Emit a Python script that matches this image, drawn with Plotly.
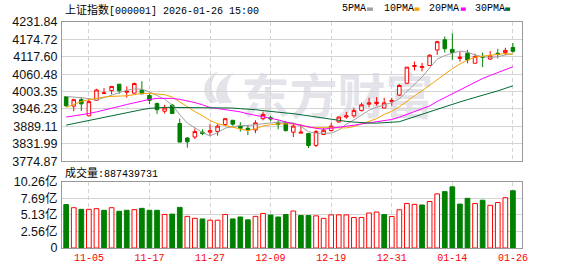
import plotly.graph_objects as go

# ---------------- data ----------------
dates = ["10-31", "11-03", "11-04", "11-05", "11-06", "11-07", "11-10", "11-11", "11-12", "11-13",
         "11-14", "11-17", "11-18", "11-19", "11-20", "11-21", "11-24", "11-25", "11-26", "11-27",
         "11-28", "12-01", "12-02", "12-03", "12-04", "12-05", "12-08", "12-09", "12-10", "12-11",
         "12-12", "12-15", "12-16", "12-17", "12-18", "12-19", "12-22", "12-23", "12-24", "12-25",
         "12-26", "12-29", "12-30", "12-31", "01-05", "01-06", "01-07", "01-08", "01-09", "01-12",
         "01-13", "01-14", "01-15", "01-16", "01-19", "01-20", "01-21", "01-22", "01-23", "01-26"]

opens = [3986.4, 3955.7, 3976.8, 3923.9, 3974.7, 3997.0, 4006.5, 4027.7, 4001.2, 3998.1,
         4008.6, 3990.6, 3964.1, 3938.8, 3958.9, 3898.6, 3851.0, 3854.1, 3870.0, 3870.0,
         3872.1, 3895.4, 3909.2, 3890.1, 3882.7, 3877.4, 3914.5, 3917.6, 3900.7, 3900.7,
         3870.0, 3866.8, 3865.7, 3826.6, 3862.6, 3875.3, 3903.8, 3919.7, 3923.9, 3940.9,
         3962.0, 3964.1, 3949.3, 3970.5, 3991.7, 4030.8, 4085.8, 4082.7, 4089.0, 4139.8,
         4173.6, 4141.9, 4112.3, 4129.2, 4096.4, 4118.6, 4110.2, 4129.2, 4131.3, 4148.2]
highs = [3988.5, 3980.0, 3985.3, 3982.2, 4012.8, 4015.0, 4020.3, 4027.7, 4020.3, 4033.0,
         4037.2, 3995.9, 3967.3, 3959.9, 3963.1, 3914.5, 3854.1, 3882.7, 3879.5, 3896.5,
         3896.5, 3914.5, 3909.2, 3902.8, 3893.3, 3909.2, 3937.8, 3924.0, 3909.2, 3907.0,
         3896.5, 3896.5, 3865.7, 3877.4, 3884.8, 3900.7, 3921.8, 3936.6, 3949.3, 3967.3,
         3983.2, 3985.3, 3983.2, 3983.2, 4027.7, 4083.7, 4101.7, 4097.5, 4126.0, 4170.5,
         4184.2, 4194.8, 4134.5, 4139.8, 4128.1, 4131.3, 4136.7, 4144.0, 4147.1, 4163.0]
lows = [3953.6, 3938.8, 3939.8, 3922.9, 3972.6, 3997.0, 3993.8, 3995.9, 3983.2, 3997.0,
        3994.9, 3962.0, 3930.3, 3931.4, 3930.3, 3837.2, 3819.2, 3847.8, 3860.5, 3858.4,
        3858.4, 3890.1, 3891.2, 3872.1, 3860.5, 3866.8, 3909.2, 3906.0, 3879.5, 3872.1,
        3854.1, 3866.8, 3818.1, 3821.3, 3860.5, 3872.1, 3900.7, 3914.5, 3917.6, 3938.8,
        3951.5, 3956.8, 3949.3, 3956.8, 3988.5, 4027.7, 4073.1, 4070.0, 4089.0, 4123.9,
        4131.3, 4108.1, 4101.7, 4096.4, 4096.4, 4083.7, 4108.1, 4112.3, 4122.8, 4131.3]
closes = [3956.8, 3976.8, 3963.1, 3970.5, 4008.6, 3999.1, 4020.3, 4006.5, 4004.4, 4029.8,
          3995.9, 3974.7, 3944.0, 3949.3, 3931.4, 3837.5, 3838.5, 3872.1, 3865.8, 3875.3,
          3890.1, 3914.5, 3896.5, 3882.7, 3877.4, 3900.7, 3928.2, 3913.4, 3896.5, 3875.3,
          3890.1, 3870.0, 3826.6, 3872.1, 3876.4, 3890.1, 3919.7, 3923.9, 3940.9, 3959.9,
          3966.3, 3968.3, 3966.3, 3974.7, 4023.4, 4083.7, 4089.0, 4085.8, 4122.8, 4167.3,
          4144.0, 4131.3, 4116.5, 4107.0, 4118.6, 4116.5, 4120.8, 4125.0, 4138.7, 4135.5]

# volume in 亿
volumes = [6.73, 6.24, 5.99, 5.99, 6.09, 5.84, 6.24, 5.69, 5.84, 5.94,
           6.14, 5.84, 5.84, 5.20, 5.25, 6.29, 4.90, 4.60, 4.50, 4.31,
           4.31, 5.20, 4.50, 4.80, 4.36, 4.90, 5.35, 5.10, 4.80, 5.18,
           5.72, 5.03, 5.03, 4.98, 4.59, 5.13, 5.13, 5.13, 4.73, 4.73,
           5.42, 5.57, 5.18, 4.88, 5.92, 6.90, 6.76, 6.66, 7.20, 8.38,
           8.73, 9.47, 6.80, 7.69, 6.90, 7.40, 6.61, 7.05, 7.79, 8.87]

ma5 = [3987.5, 3986.4, 3983.2, 3980.0, 3975.2, 3983.6, 3992.3, 4001.0, 4007.8, 4012.0,
       4011.4, 4002.3, 3989.8, 3978.7, 3959.1, 3927.4, 3900.1, 3885.8, 3869.1, 3857.8,
       3868.4, 3883.6, 3888.4, 3891.8, 3892.2, 3894.4, 3897.1, 3900.5, 3903.2, 3902.8,
       3900.7, 3889.1, 3871.7, 3866.8, 3867.0, 3867.0, 3877.0, 3896.4, 3910.2, 3926.9,
       3942.1, 3951.9, 3960.3, 3967.1, 3979.8, 4003.3, 4027.4, 4051.3, 4080.9, 4109.7,
       4121.8, 4130.2, 4136.4, 4133.2, 4123.5, 4118.0, 4115.9, 4117.6, 4123.9, 4127.3]
ma10 = [3951.5, 3961.0, 3970.5, 3976.8, 3982.2, 3985.4, 3987.5, 3988.5, 3989.6, 3993.6,
        3997.5, 3997.3, 3995.4, 3993.3, 3985.5, 3969.4, 3951.2, 3937.8, 3923.9, 3908.5,
        3897.9, 3891.9, 3887.1, 3880.4, 3875.0, 3881.4, 3890.3, 3894.5, 3897.5, 3897.5,
        3897.5, 3893.1, 3886.1, 3885.0, 3884.9, 3883.9, 3883.0, 3884.1, 3888.5, 3897.0,
        3904.6, 3914.4, 3928.4, 3938.7, 3953.4, 3972.7, 3989.6, 4005.8, 4024.0, 4044.8,
        4062.5, 4078.8, 4093.9, 4107.1, 4116.6, 4119.9, 4123.1, 4127.0, 4128.6, 4125.4]
ma20 = [3919.7, 3922.9, 3927.1, 3931.4, 3936.7, 3942.0, 3948.3, 3954.6, 3961.0, 3967.3,
        3973.7, 3977.9, 3981.1, 3982.2, 3981.1, 3977.9, 3973.7, 3967.3, 3960.0, 3951.0,
        3947.7, 3944.5, 3941.2, 3936.8, 3930.3, 3925.3, 3920.7, 3916.1, 3910.7, 3902.9,
        3897.7, 3892.4, 3886.5, 3882.7, 3879.9, 3882.6, 3886.6, 3889.2, 3893.0, 3897.2,
        3901.0, 3903.7, 3907.2, 3911.8, 3919.1, 3928.3, 3936.3, 3944.9, 3956.3, 3970.9,
        3983.5, 3996.6, 4011.1, 4022.8, 4034.9, 4046.3, 4056.3, 4066.4, 4076.3, 4085.0]
ma30 = [3893.3, 3898.6, 3902.8, 3908.1, 3913.4, 3918.7, 3924.0, 3929.3, 3934.5, 3939.8,
        3944.0, 3948.3, 3950.4, 3951.5, 3951.5, 3951.5, 3951.5, 3951.5, 3950.4, 3950.4,
        3950.4, 3949.3, 3949.3, 3947.2, 3946.2, 3944.0, 3940.9, 3937.7, 3934.5, 3933.2,
        3931.0, 3927.4, 3922.9, 3919.6, 3915.2, 3911.6, 3908.2, 3905.5, 3903.3, 3901.0,
        3900.0, 3899.8, 3900.5, 3901.4, 3904.4, 3912.7, 3921.0, 3928.1, 3936.7, 3946.4,
        3954.9, 3962.1, 3969.4, 3976.9, 3985.0, 3992.2, 3998.6, 4005.6, 4013.7, 4022.4]

price_tick_labels = ["3774.87", "3831.99", "3889.11", "3946.23", "4003.35",
                     "4060.48", "4117.60", "4174.72", "4231.84"]
vol_tick_vals = [0, 2.565, 5.13, 7.695, 10.26]
vol_tick_labels = ["0", "2.56亿", "5.13亿", "7.69亿", "10.26亿"]
date_tick_labels = ["11-05", "11-17", "11-27", "12-09", "12-19", "12-31", "01-14", "01-26"]

index_name = "上证指数"
index_code = "000001"
quote_time = "2026-01-26 15:00"
last_volume = 887439731
ma_names = ["5PMA", "10PMA", "20PMA", "30PMA"]
watermark = "东方财富"

# ---------------- styles ----------------
RED = "#ff0000"
GREEN = "#008000"
MA_COLORS = ["#a0a0a0", "#f5a300", "#ff00ff", "#006a33"]
GRID = "#d4d4d4"
BORDER = "#999999"
WM = "#e3e3e9"
MONO = "Liberation Mono, Noto Sans CJK SC"
CJK = "Noto Sans CJK SC"

x = list(range(len(dates)))
tick_pos = [dates.index(d) for d in date_tick_labels]

fig = go.Figure()

fig.add_trace(go.Candlestick(
    x=x, open=opens, high=highs, low=lows, close=closes,
    increasing=dict(line=dict(color=RED, width=1), fillcolor="#ffffff"),
    decreasing=dict(line=dict(color=GREEN, width=1), fillcolor=GREEN),
    whiskerwidth=0, xaxis="x", yaxis="y", showlegend=False, hoverinfo="skip"))

for vals, col in zip([ma5, ma10, ma20, ma30], MA_COLORS):
    fig.add_trace(go.Scatter(x=x, y=vals, mode="lines", line=dict(color=col, width=1),
                             xaxis="x", yaxis="y", showlegend=False, hoverinfo="skip"))

up = [False] + [closes[i] >= closes[i - 1] for i in range(1, len(closes))]
fig.add_trace(go.Bar(
    x=x, y=volumes, width=0.62,
    marker=dict(color=["#ffffff" if u else GREEN for u in up],
                line=dict(color=[RED if u else GREEN for u in up], width=1)),
    xaxis="x2", yaxis="y2", showlegend=False, hoverinfo="skip"))

W, H = 578, 276
L, R, T, B = 56, 56, 22, 21
PH = H - T - B
PW = W - L - R


def px_x(p):
    return (p - L) / PW


def px_y(p):
    return (H - B - p) / PH


price_dom = [px_y(165.5), 1]
vol_dom = [0, px_y(186.7)]

common_x = dict(range=[-0.55, 60.2], tickvals=tick_pos, showgrid=True, gridcolor=GRID,
                griddash="4px,3px", gridwidth=1, showline=True, mirror=True,
                linecolor=BORDER, linewidth=1, zeroline=False, ticks="", fixedrange=True)
common_y = dict(showgrid=True, gridcolor=GRID, gridwidth=1, showline=True, mirror=True,
                linecolor=BORDER, linewidth=1, zeroline=False, ticks="",
                tickfont=dict(family="Liberation Sans, Arial, Noto Sans CJK SC", size=12.5,
                              color="#111111"),
                ticklabelstandoff=1)

fig.update_layout(
    width=W, height=H, margin=dict(l=L, r=R, t=T, b=B, pad=0),
    paper_bgcolor="white", plot_bgcolor="white", showlegend=False, boxgap=0.33,
    xaxis=dict(common_x, domain=[0, 1], anchor="y", showticklabels=False,
               rangeslider=dict(visible=False)),
    xaxis2=dict(common_x, domain=[0, 1], anchor="y2", matches="x",
                ticktext=date_tick_labels, showticklabels=True,
                tickfont=dict(family=MONO, size=10, color=RED)),
    yaxis=dict(common_y, domain=price_dom, anchor="x",
               range=[float(price_tick_labels[0]), float(price_tick_labels[-1])],
               tickvals=[float(v) for v in price_tick_labels], ticktext=price_tick_labels),
    yaxis2=dict(common_y, domain=vol_dom, anchor="x2", range=[0, vol_tick_vals[-1]],
                tickvals=vol_tick_vals, ticktext=vol_tick_labels),
)

annotations = []
annotations.append(dict(
    xref="paper", yref="paper", x=px_x(57), y=px_y(8.5), xanchor="left", yanchor="middle",
    showarrow=False, font=dict(family=MONO, size=10, color="#000000"),
    text=f'<span style="font-family:{CJK};font-size:11px">{index_name}</span>[{index_code}] {quote_time}'))
annotations.append(dict(
    xref="paper", yref="paper", x=px_x(57), y=px_y(176.5), xanchor="left", yanchor="middle",
    showarrow=False, font=dict(family=MONO, size=10, color="#000000"),
    text=f'<span style="font-family:{CJK};font-size:11px">成交量</span>:{last_volume}'))

legend_left = [338, 380, 426, 472]
legend_box = [(365, 371), (413, 418), (460, 465), (505, 510)]
shapes = []
for name, lx, (b0, b1), col in zip(ma_names, legend_left, legend_box, MA_COLORS):
    annotations.append(dict(
        xref="paper", yref="paper", x=px_x(lx), y=px_y(8.5), xanchor="left", yanchor="middle",
        showarrow=False, font=dict(family=MONO, size=10, color="#000000"), text=name))
    shapes.append(dict(type="rect", xref="paper", yref="paper",
                       x0=px_x(b0), x1=px_x(b1), y0=px_y(10.5), y1=px_y(7),
                       fillcolor=col, line=dict(width=0)))

# watermark text (between gridlines and traces)
shapes.append(dict(type="rect", xref="paper", yref="paper", layer="between",
                   x0=px_x(258), x1=px_x(412), y0=px_y(122), y1=px_y(84),
                   fillcolor="rgba(0,0,0,0)", line=dict(width=0),
                   label=dict(text=f"<b>{watermark}</b>", textposition="middle center",
                              font=dict(family=CJK, size=48, color=WM))))


# watermark logo (flame-like leaf)
def pth(points):
    s = "M " + " ".join(
        f"{'C ' if i % 3 == 1 else ''}{px_x(a):.4f},{px_y(b):.4f}" for i, (a, b) in enumerate(points)
    )
    return s + " Z"


leaf_outer = [(207, 106), (196, 96), (198, 80), (214, 73), (205, 84), (206, 95), (214, 104)]
leaf_inner = [(215, 106), (208, 94), (214, 80), (230, 74), (220, 86), (222, 98), (229, 105)]
for pts in (leaf_outer, leaf_inner):
    shapes.append(dict(type="path", xref="paper", yref="paper", layer="between",
                       path=pth(pts), fillcolor=WM, line=dict(width=0)))

fig.update_layout(annotations=annotations, shapes=shapes)

fig.write_html("out.html")
